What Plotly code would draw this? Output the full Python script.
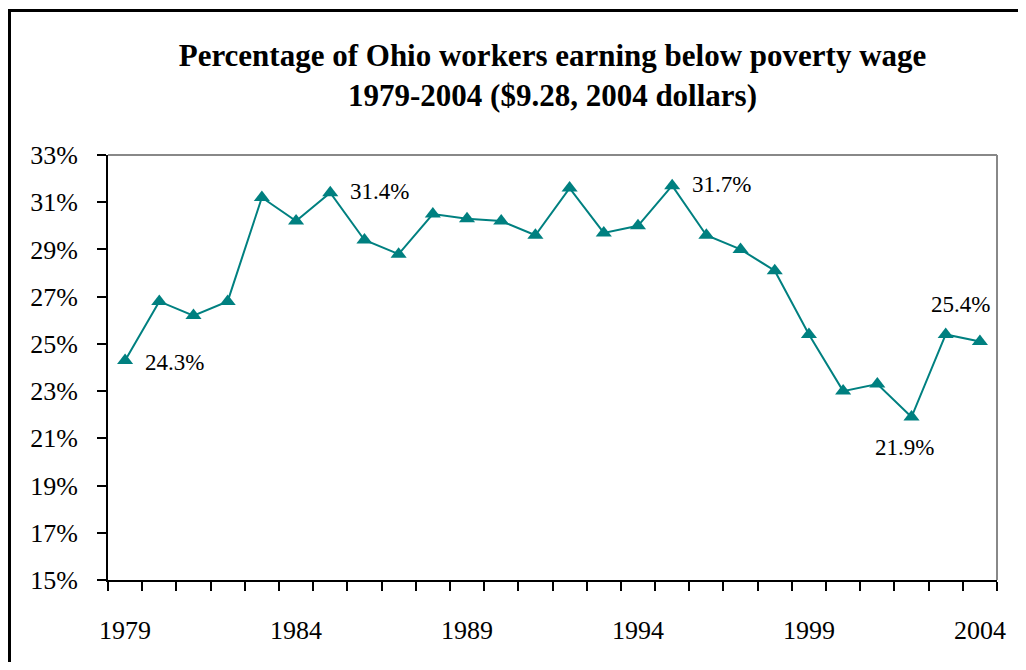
import plotly.graph_objects as go

years = list(range(1979, 2005))
values = [24.3, 26.8, 26.2, 26.8, 31.2, 30.2, 31.4, 29.4, 28.8, 30.5, 30.3, 30.2, 29.6,
          31.6, 29.7, 30.0, 31.7, 29.6, 29.0, 28.1, 25.4, 23.0, 23.3, 21.9, 25.4, 25.1]
label_years = [1979, 1985, 1995, 2002, 2003]
x_tick_labels = [1979, 1984, 1989, 1994, 1999, 2004]
y_ticks = list(range(15, 34, 2))

teal = "#008080"
font_family = "Liberation Serif, Times New Roman, serif"

# label placement (anchor, xshift, yshift) in pixels
label_style = {
    1979: ("left", 18, -2),
    1985: ("left", 18, 1),
    1995: ("left", 18, 1),
    2002: ("center", -7, -30),
    2003: ("center", 15, 30),
}

fig = go.Figure()
fig.add_trace(go.Scatter(
    x=years, y=values, mode="lines+markers",
    line=dict(color=teal, width=2),
    marker=dict(symbol="triangle-up", size=14, color=teal),
    showlegend=False, hoverinfo="skip",
))

annotations = []
for yr in label_years:
    v = values[years.index(yr)]
    anc, xs, ys = label_style[yr]
    annotations.append(dict(
        x=yr, y=v, xref="x", yref="y", text=f"{v:.1f}%", showarrow=False,
        xanchor=anc, yanchor="middle", xshift=xs, yshift=ys,
        font=dict(family=font_family, size=23, color="black"),
    ))

W, H = 1010, 654  # page body has an 8px margin
fig.update_layout(
    width=W, height=H,
    margin=dict(l=100, r=21, t=147, b=82),
    paper_bgcolor="white", plot_bgcolor="white",
    font=dict(family=font_family, color="black", size=26),
    title=dict(
        text="<b>Percentage of Ohio workers earning below poverty wage<br>1979-2004 ($9.28, 2004 dollars)</b>",
        x=0.5, xanchor="center", xref="paper", y=0.912, yanchor="top",
        font=dict(family=font_family, size=31, color="black"),
    ),
    annotations=annotations,
    xaxis=dict(
        range=[1978.5, 2004.5], tickmode="array", tickvals=x_tick_labels,
        ticktext=[str(t) for t in x_tick_labels],
        ticks="outside", ticklen=0, showgrid=False, zeroline=False,
        showline=True, linecolor="black", linewidth=2, mirror=False,
        tickfont=dict(size=26), ticklabelstandoff=26,
        minor=dict(tickmode="array", tickvals=[y - 0.5 for y in years] + [2004.5],
                   ticks="outside", ticklen=9, tickcolor="black", tickwidth=2, showgrid=False),
    ),
    yaxis=dict(
        range=[15, 33], tickmode="array", tickvals=y_ticks,
        ticktext=[f"{t}%" for t in y_ticks],
        ticks="outside", ticklen=9, tickcolor="black", tickwidth=2,
        showgrid=False, zeroline=False,
        showline=True, linecolor="black", linewidth=2,
        tickfont=dict(size=26), ticklabelstandoff=14,
    ),
    shapes=[
        dict(type="line", xref="paper", yref="paper", x0=0, x1=1, y0=1, y1=1,
             line=dict(color="#888888", width=2)),
        dict(type="line", xref="paper", yref="paper", x0=1, x1=1, y0=0, y1=1,
             line=dict(color="#888888", width=2)),
        # outer chart frame (top and left edges)
        dict(type="line", xref="paper", yref="paper", x0=-98.5 / 889, x1=1.05,
             y0=(425 + 144.5) / 425, y1=(425 + 144.5) / 425,
             line=dict(color="black", width=3)),
        dict(type="line", xref="paper", yref="paper", x0=-98.5 / 889, x1=-98.5 / 889,
             y0=-0.3, y1=(425 + 146) / 425,
             line=dict(color="black", width=3)),
    ],
)

fig.write_html("out.html")
